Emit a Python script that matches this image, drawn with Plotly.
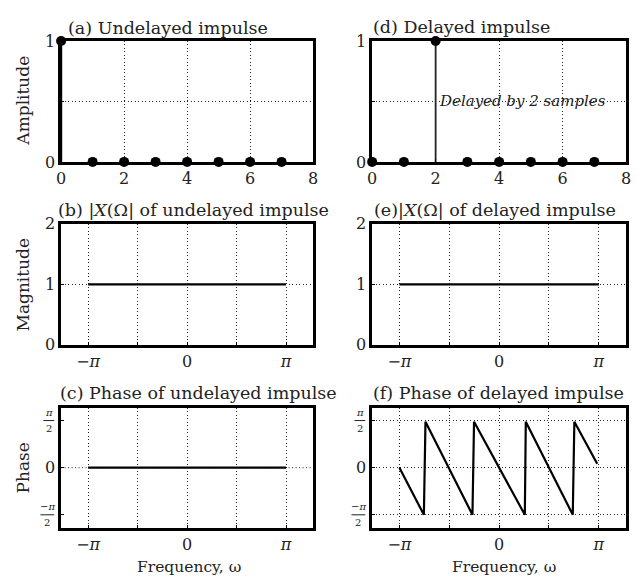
import numpy as np
import plotly.graph_objects as go

PI = np.pi

# ---------------- data ----------------
n = [0, 1, 2, 3, 4, 5, 6, 7]
x_undelayed = [1, 0, 0, 0, 0, 0, 0, 0]
x_delayed = [0, 0, 1, 0, 0, 0, 0, 0]

omega_span = [-PI, PI]
mag_undelayed = [1, 1]
mag_delayed = [1, 1]
phase_undelayed = [0, 0]

omega_delayed = [-3.14, -2.37, -2.32, -0.84, -0.79, 0.81, 0.84, 2.32, 2.37, 3.09]
phase_delayed = [0.0, -1.57, 1.53, -1.57, 1.53, -1.57, 1.53, -1.57, 1.53, 0.13]

n_ticks = [0, 2, 4, 6, 8]
amp_ticks = [0, 0.5, 1]
amp_ticktext = ["0", "", "1"]
mag_ticks = [0, 1, 2]
w_ticks = [-PI, -PI / 2, 0, PI / 2, PI]
w_ticktext = ["−<i>π</i>", "", "0", "", "<i>π</i>"]
ph_ticks = [-PI / 2, 0, PI / 2]
ph_ticktext = ["", "0", ""]
ph_frac_num = ["−<i>π</i>", "", "<i>π</i>"]
ph_frac_den = ["2", "", "2"]

titles = [
    "(a) Undelayed impulse",
    "(b) |<i>X</i>(Ω| of undelayed impulse",
    "(c) Phase of undelayed impulse",
    "(d) Delayed impulse",
    "(e)|<i>X</i>(Ω| of delayed impulse",
    "(f) Phase of delayed impulse",
]

# ---------------- geometry ----------------
W, H = 637, 588
FONT = "DejaVu Serif"
TXT = "#222"


def px(x):
    return min(max(x / W, 0.0), 1.0)


def py(y):
    return min(max(1 - y / H, 0.0), 1.0)


col_left = [57, 373]
col_right = [313, 631]
col_dom = [[px(col_left[i]), px(col_right[i])] for i in range(2)]
row_dom = [[py(158), py(33)], [py(347), py(222)], [py(536), py(412)]]

fig = go.Figure()


def stems(xv, yv):
    xs, ys = [], []
    for a, b in zip(xv, yv):
        xs += [a, a, None]
        ys += [0, b, None]
    return xs, ys


line_style = dict(color="black", width=2.2)
marker_style = dict(color="black", size=10)

# (a)
sx, sy = stems(n, x_undelayed)
fig.add_trace(go.Scatter(x=sx, y=sy, mode="lines", line=line_style, xaxis="x", yaxis="y",
                         showlegend=False, cliponaxis=False))
fig.add_trace(go.Scatter(x=n, y=x_undelayed, mode="markers", marker=marker_style,
                         xaxis="x", yaxis="y", showlegend=False, cliponaxis=False))
# (d)
sx, sy = stems(n, x_delayed)
fig.add_trace(go.Scatter(x=sx, y=sy, mode="lines", line=dict(color="#222", width=1.8), xaxis="x4", yaxis="y4",
                         showlegend=False, cliponaxis=False))
fig.add_trace(go.Scatter(x=n, y=x_delayed, mode="markers", marker=marker_style,
                         xaxis="x4", yaxis="y4", showlegend=False, cliponaxis=False))
# (b), (e)
fig.add_trace(go.Scatter(x=omega_span, y=mag_undelayed, mode="lines", line=line_style,
                         xaxis="x2", yaxis="y2", showlegend=False))
fig.add_trace(go.Scatter(x=omega_span, y=mag_delayed, mode="lines", line=line_style,
                         xaxis="x5", yaxis="y5", showlegend=False))
# (c), (f)
fig.add_trace(go.Scatter(x=omega_span, y=phase_undelayed, mode="lines", line=line_style,
                         xaxis="x3", yaxis="y3", showlegend=False))
fig.add_trace(go.Scatter(x=omega_delayed, y=phase_delayed, mode="lines", line=line_style,
                         xaxis="x6", yaxis="y6", showlegend=False))

GRIDDASH = "1px,2.5px"
axis_common = dict(showline=True, mirror=True, linecolor="black", linewidth=2.5,
                   ticks="inside", ticklen=3, tickwidth=1, tickcolor="black",
                   gridcolor="#222", gridwidth=1, griddash=GRIDDASH, zeroline=False,
                   tickfont=dict(family=FONT, size=16, color=TXT), fixedrange=True)

layout = dict(width=W, height=H, margin=dict(l=0, r=0, t=0, b=0), autosize=False,
              paper_bgcolor="white", plot_bgcolor="white",
              font=dict(family=FONT, size=16, color=TXT))

ph_range = [-2, 2]
for c in range(2):
    for r in range(3):
        idx = c * 3 + r + 1
        xk = "xaxis" if idx == 1 else f"xaxis{idx}"
        yk = "yaxis" if idx == 1 else f"yaxis{idx}"
        an = "y" if idx == 1 else f"y{idx}"
        anx = "x" if idx == 1 else f"x{idx}"
        xa = dict(axis_common, domain=col_dom[c], anchor=an)
        ya = dict(axis_common, domain=row_dom[r], anchor=anx)
        if r == 0:
            xa.update(range=[0, 8], tickmode="array", tickvals=n_ticks)
            ya.update(range=[0, 1], tickmode="array", tickvals=amp_ticks, ticktext=amp_ticktext)
        elif r == 1:
            xa.update(range=[-4, 4], tickmode="array", tickvals=w_ticks, ticktext=w_ticktext)
            ya.update(range=[0, 2], tickmode="array", tickvals=mag_ticks)
        else:
            xa.update(range=[-4, 4], tickmode="array", tickvals=w_ticks, ticktext=w_ticktext)
            ya.update(range=ph_range, tickmode="array", tickvals=ph_ticks, ticktext=ph_ticktext)
            if c == 0:
                ya.update(showgrid=False)
        layout[xk] = xa
        layout[yk] = ya

fig.update_layout(**layout)

# dotted zero line for panel (c)
fig.add_shape(type="line", xref="x3 domain", yref="y3", x0=0, x1=1, y0=0, y1=0,
              line=dict(color="#222", width=1, dash=GRIDDASH), layer="below")

ann = []
# stacked-fraction tick labels (±π/2) for the phase axes
d0, d1 = row_dom[2]
for c in range(2):
    axl = col_left[c]
    for v, num, den in zip(ph_ticks, ph_frac_num, ph_frac_den):
        if not num:
            continue
        yp = d0 + (v - ph_range[0]) / (ph_range[1] - ph_range[0]) * (d1 - d0)
        wide = num.startswith("−")
        xl = axl - (21 if wide else 18)
        xr = axl - 7
        fig.add_shape(type="line", xref="paper", yref="paper", x0=px(xl), x1=px(xr), y0=yp, y1=yp,
                      line=dict(color=TXT, width=1))
        xc = px((xl + xr) / 2)
        ann.append(dict(text=num, xref="paper", yref="paper", x=xc, y=yp, yshift=1,
                        xanchor="center", yanchor="bottom", showarrow=False,
                        font=dict(family=FONT, size=10, color=TXT)))
        ann.append(dict(text=den, xref="paper", yref="paper", x=xc, y=yp, yshift=0,
                        xanchor="center", yanchor="top", showarrow=False,
                        font=dict(family=FONT, size=10, color=TXT)))

title_pos = [(62, 20), (52, 208), (54, 397), (372, 19), (373, 208), (372, 397)]
for t, (tx, ty) in zip(titles, title_pos):
    ann.append(dict(text=t, xref="paper", yref="paper", x=px(tx), y=py(ty), xanchor="left",
                    yanchor="middle", showarrow=False, font=dict(family=FONT, size=17.5, color=TXT)))
for t, ty in [("Amplitude", 95), ("Magnitude", 285), ("Phase", 474)]:
    ann.append(dict(text=t, xref="paper", yref="paper", x=px(18), y=py(ty), textangle=-90,
                    xanchor="center", yanchor="middle", showarrow=False,
                    font=dict(family=FONT, size=17, color=TXT)))
for tx in [187, 507]:
    ann.append(dict(text="Frequency, ω", xref="paper", yref="paper", x=px(tx), y=py(577),
                    xanchor="center", yanchor="middle", showarrow=False,
                    font=dict(family=FONT, size=15.5, color=TXT)))
ann.append(dict(text="<i>Delayed by 2 samples</i>", xref="x4", yref="y4", x=2.05, y=0.5,
                xanchor="left", yanchor="middle", showarrow=False,
                font=dict(family=FONT, size=15, color=TXT)))
fig.update_layout(annotations=ann)

fig.write_html("out.html")
